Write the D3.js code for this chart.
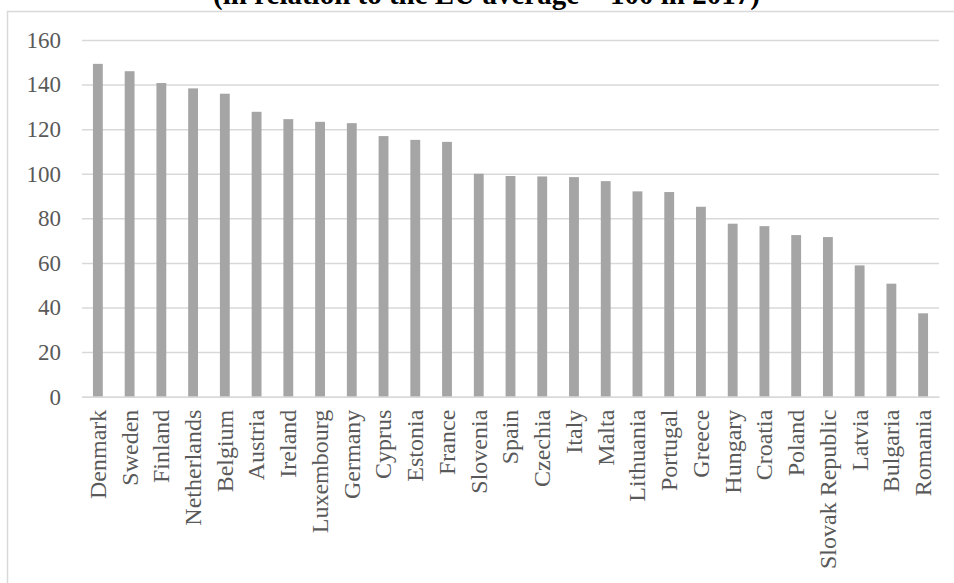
<!DOCTYPE html>
<html>
<head>
<meta charset="utf-8">
<script src="https://cdn.jsdelivr.net/npm/d3@7"></script>
<style>
  html, body { margin: 0; padding: 0; background: #fff; }
  svg { display: block; }
</style>
</head>
<body>
<svg id="chart" width="954" height="583"></svg>
<script>
// Index per country, EU average = 100
const countries = ["Denmark", "Sweden", "Finland", "Netherlands", "Belgium", "Austria", "Ireland",
  "Luxembourg", "Germany", "Cyprus", "Estonia", "France", "Slovenia", "Spain", "Czechia", "Italy",
  "Malta", "Lithuania", "Portugal", "Greece", "Hungary", "Croatia", "Poland", "Slovak Republic",
  "Latvia", "Bulgaria", "Romania"];
const values = [149.3, 146.0, 140.7, 138.3, 135.9, 127.8, 124.5, 123.3, 122.7, 116.9, 115.2, 114.3,
  100.0, 99.0, 98.8, 98.5, 96.7, 92.1, 91.8, 85.2, 77.6, 76.5, 72.5, 71.6, 58.9, 50.7, 37.4];
const yTicks = [0, 20, 40, 60, 80, 100, 120, 140, 160];
const title = "(in relation to the EU average = 100 in 2017)";

const svg = d3.select("#chart");
const serif = "'Liberation Serif', 'Times New Roman', serif";

// outer chart frame
svg.append("rect")
  .attr("x", 7.5).attr("y", 11.5)
  .attr("width", 1000).attr("height", 1000)
  .attr("fill", "none")
  .attr("stroke", "#d9d9d9")
  .attr("stroke-width", 1.5);

// title line
svg.append("text")
  .attr("x", 486.5).attr("y", 4)
  .attr("text-anchor", "middle")
  .attr("font-family", serif)
  .attr("font-weight", "bold")
  .attr("font-size", 29)
  .attr("fill", "#000")
  .text(title);

const plotLeft = 82, plotRight = 939, plotTop = 40, plotBottom = 396.7;

const x = d3.scaleBand().domain(countries).range([plotLeft, plotRight]).paddingInner(0.69).paddingOuter(0.345);
const y = d3.scaleLinear().domain([0, 160]).range([plotBottom, plotTop]);

// gridlines + y labels
const yAxis = d3.axisLeft(y).tickValues(yTicks).tickSize(-(plotRight - plotLeft)).tickPadding(21);
const gy = svg.append("g").attr("transform", `translate(${plotLeft},0)`).call(yAxis);
gy.select(".domain").remove();
gy.selectAll(".tick line").attr("stroke", "#d9d9d9").attr("stroke-width", 1.5);
gy.selectAll(".tick text")
  .attr("font-family", serif)
  .attr("font-size", 23)
  .attr("fill", "#595959");

// bars
svg.append("g").selectAll("rect")
  .data(countries)
  .join("rect")
  .attr("x", d => x(d))
  .attr("width", x.bandwidth())
  .attr("y", (d, i) => y(values[i]))
  .attr("height", (d, i) => y(0) - y(values[i]))
  .attr("fill", "#a5a5a5");

// category axis
const xAxis = d3.axisBottom(x).tickSize(0).tickPadding(0);
const gx = svg.append("g").attr("transform", `translate(0,${plotBottom})`).call(xAxis);
gx.select(".domain").attr("stroke", "#d9d9d9").attr("stroke-width", 1.5);
gx.selectAll(".tick text")
  .attr("font-family", serif)
  .attr("font-size", 24)
  .attr("fill", "#595959")
  .attr("text-anchor", "end")
  .attr("transform", "rotate(-90)")
  .attr("x", -13)
  .attr("y", 0)
  .attr("dy", "0.33em");
</script>
</body>
</html>
